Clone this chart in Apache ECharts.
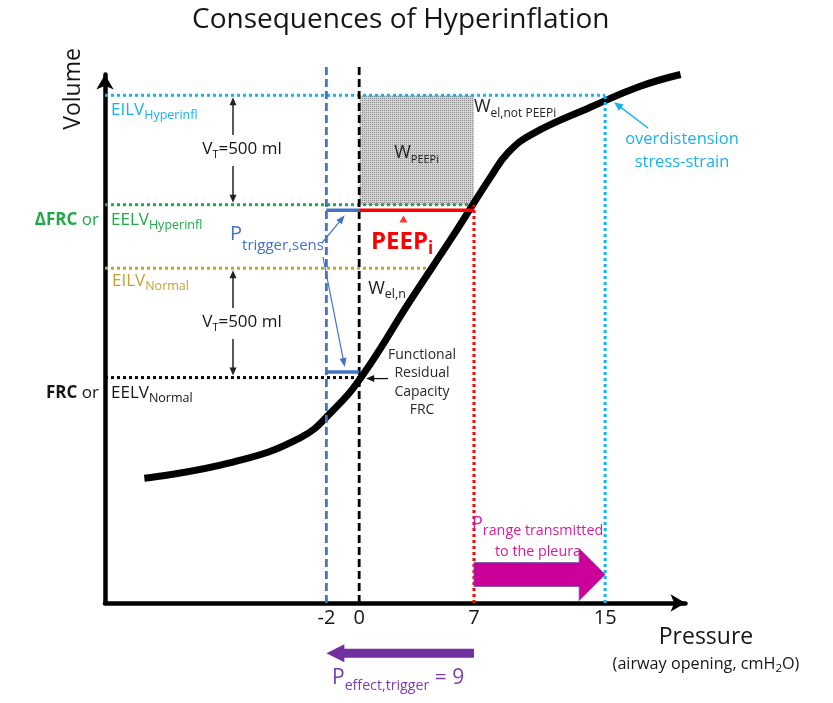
<!DOCTYPE html>
<html>
<head>
<meta charset="utf-8">
<title>Consequences of Hyperinflation</title>
<script src="https://cdn.jsdelivr.net/npm/echarts@6.0.0/dist/echarts.min.js"></script>
<style>
html,body{margin:0;padding:0;background:#ffffff;}
#chart{width:833px;height:703px;}
</style>
</head>
<body>
<div id="chart"></div>
<script>
// ---------------- data ----------------
const TITLE = 'Consequences of Hyperinflation';
// airway-opening pressure, cmH2O
const pressureTicks = [-2, 0, 7, 15];
const P_TRIGGER = -2;      // trigger sensitivity
const P_ATM = 0;
const PEEP_I = 7;          // intrinsic PEEP
const P_OVERDIST = 15;     // end-inspiratory pressure when hyperinflated
const P_EFFECT_TRIGGER = PEEP_I - P_TRIGGER; // 9
// lung volume, ml (schematic)
const FRC_VOL = 2000;          // FRC or EELV normal
const EILV_NORMAL_VOL = 2500;  // FRC + VT
const EELV_HYPER_VOL = 2790;   // ΔFRC or EELV hyperinflated
const EILV_HYPER_VOL = 3290;   // EELV hyperinflated + VT
const VT_ML = 500;
// static pressure-volume curve of the respiratory system
const curvePressure = [-13.1, -7.9, -3.6, -1.6, 0.2, 3.1, 5.7, 8.0, 9.1, 10.6, 14.1, 17.1, 19.6];
const curveVolume   = [1540, 1610, 1725, 1850, 2010, 2350, 2645, 2915, 3030, 3115, 3235, 3330, 3385];
// axis extents
const X_MIN = -15.5, X_MAX = 19.9;
const Y_MIN = 970, Y_MAX = 3385;
const GUIDE_TOP_VOL = 3420;      // top of the dashed pressure guides
const MAG_ARROW_VOL = 1100;      // level of the "P range" arrow
const PURPLE_ARROW_VOL = 740;    // level of the "P effect,trigger" arrow (below axis)
const SEG_OFFSET = 25;           // small schematic offset of the short segments
const PEEP_MARK = [2.7, 2725];   // little red marker under the PEEPi segment

// ---------------- style ----------------
const FONT = "'Open Sans', sans-serif";
const CYAN = '#19B2EC', GREEN = '#1EAA46', GOLD = '#C9A12C', BLUE = '#4472C4',
      RED = '#FF0000', MAGENTA = '#CC0099', MAGENTA_TXT = '#D81B9C', PURPLE = '#7030A0',
      PURPLE_TXT = '#7D3CB0', INK = '#161616';

function dotPattern() {
  const c = document.createElement('canvas');
  c.width = 2; c.height = 2;
  const x = c.getContext('2d');
  x.fillStyle = '#d2d2d2'; x.fillRect(0, 0, 2, 2);
  x.fillStyle = '#8e8e8e'; x.fillRect(0, 0, 1, 1);
  return c;
}

function seg(p1, v1, p2, v2, color, width, type, z) {
  return {
    type: 'line', data: [[p1, v1], [p2, v2]], symbol: 'none', showSymbol: false,
    silent: true, clip: false, z: z || 3, animation: false,
    lineStyle: {color: color, width: width, type: type, cap: 'butt'}
  };
}

function crossP(v) { // pressure where the curve reaches volume v
  for (let i = 1; i < curveVolume.length; i++) {
    if (curveVolume[i] >= v) {
      const t = (v - curveVolume[i - 1]) / (curveVolume[i] - curveVolume[i - 1]);
      return curvePressure[i - 1] + t * (curvePressure[i] - curvePressure[i - 1]);
    }
  }
  return curvePressure[curvePressure.length - 1];
}

const chart = echarts.init(document.getElementById('chart'), null, {renderer: 'canvas'});

const option = {
  animation: false,
  backgroundColor: '#ffffff',
  title: {
    text: TITLE, left: 187, top: 1,
    textStyle: {fontFamily: FONT, fontSize: 28, fontWeight: 'normal', color: INK}
  },
  grid: {left: 105, right: 147.5, top: 74.5, bottom: 100, containLabel: false, outerBoundsMode: 'none'},
  xAxis: {
    type: 'value', min: X_MIN, max: X_MAX,
    splitLine: {show: false}, axisTick: {show: false},
    axisLine: {onZero: false, lineStyle: {color: '#000', width: 4.5}, symbol: ['none', 'arrow'], symbolSize: [13, 15]},
    axisLabel: {customValues: pressureTicks, fontFamily: FONT, fontSize: 20, color: INK, margin: 5,
      formatter: function (v) { return String(v); }}
  },
  yAxis: {
    type: 'value', min: Y_MIN, max: Y_MAX,
    splitLine: {show: false}, axisTick: {show: false}, axisLabel: {show: false},
    axisLine: {onZero: false, lineStyle: {color: '#000', width: 4.5}, symbol: ['none', 'arrow'], symbolSize: [13, 15]}
  },
  series: [
    // W_PEEPi shaded area
    {type: 'line', data: [], silent: true, z: 1,
     markArea: {silent: true, itemStyle: {color: {image: dotPattern(), repeat: 'repeat'}},
       data: [[{coord: [P_ATM, EELV_HYPER_VOL]}, {coord: [PEEP_I, EILV_HYPER_VOL]}]]}},
    // horizontal dotted volume levels
    seg(X_MIN, EILV_HYPER_VOL, P_OVERDIST, EILV_HYPER_VOL, CYAN, 3, 'dotted'),
    seg(X_MIN, EELV_HYPER_VOL, PEEP_I, EELV_HYPER_VOL, GREEN, 3, 'dotted'),
    seg(X_MIN, EILV_NORMAL_VOL, crossP(EILV_NORMAL_VOL), EILV_NORMAL_VOL, GOLD, 3, 'dotted'),
    seg(X_MIN, FRC_VOL, P_ATM, FRC_VOL, '#000', 3, 'dotted'),
    // vertical dotted pressure guides
    seg(PEEP_I, Y_MIN, PEEP_I, EELV_HYPER_VOL, RED, 3, 'dotted', 6),
    seg(P_OVERDIST, Y_MIN, P_OVERDIST, EILV_HYPER_VOL, CYAN, 3, 'dotted', 6),
    // P-V curve
    {type: 'line', name: 'P-V curve', data: curvePressure.map(function (p, i) { return [p, curveVolume[i]]; }),
     smooth: 0.45, symbol: 'none', showSymbol: false, clip: false, silent: true, z: 4,
     lineStyle: {color: '#000', width: 7, cap: 'butt', join: 'round'}},
    // dashed guides at trigger and zero pressure
    seg(P_TRIGGER, Y_MIN, P_TRIGGER, GUIDE_TOP_VOL, BLUE, 2.8, [8, 4], 5),
    seg(P_ATM, Y_MIN, P_ATM, GUIDE_TOP_VOL, '#000', 2.8, [8, 4], 5),
    // PEEPi segment and trigger-sensitivity segments
    seg(P_ATM, EELV_HYPER_VOL - SEG_OFFSET, PEEP_I, EELV_HYPER_VOL - SEG_OFFSET, RED, 3.5, 'solid', 6),
    seg(P_TRIGGER, EELV_HYPER_VOL - SEG_OFFSET, P_ATM, EELV_HYPER_VOL - SEG_OFFSET, BLUE, 3.5, 'solid', 6),
    seg(P_TRIGGER, FRC_VOL + SEG_OFFSET, P_ATM, FRC_VOL + SEG_OFFSET, BLUE, 3.5, 'solid', 6),
    {type: 'scatter', data: [PEEP_MARK], symbol: 'triangle', symbolSize: [8, 7], silent: true, z: 6,
     itemStyle: {color: RED}}
  ]
};
chart.setOption(option);

// ---------------- annotations ----------------
const toPx = function (p, v) { return chart.convertToPixel({gridIndex: 0}, [p, v]); };
const g = [];

function arrow(x1, y1, x2, y2, color, w, hl, hw) {
  const dx = x2 - x1, dy = y2 - y1, L = Math.hypot(dx, dy), ux = dx / L, uy = dy / L;
  const bx = x2 - ux * hl, by = y2 - uy * hl;
  g.push({type: 'line', z: 90, silent: true, shape: {x1: x1, y1: y1, x2: bx + ux, y2: by + uy},
          style: {stroke: color, lineWidth: w}});
  g.push({type: 'polygon', z: 90, silent: true,
          shape: {points: [[x2, y2], [bx - uy * hw / 2, by + ux * hw / 2], [bx + uy * hw / 2, by - ux * hw / 2]]},
          style: {fill: color}});
}
function rich(F, f, drop, fill, weight) {
  const L = Math.round(2 * (drop + 0.39 * F + 0.11 * f));
  const w = weight || 'normal';
  return {
    b: {fontFamily: FONT, fontSize: F, lineHeight: L, fill: fill, fontWeight: w},
    s: {fontFamily: FONT, fontSize: f, lineHeight: f, fill: fill, fontWeight: w, verticalAlign: 'bottom'},
    k: {fontFamily: FONT, fontSize: F, lineHeight: L, fill: fill, fontWeight: 'bold'}
  };
}
function txt(x, y, text, richStyle, align) {
  g.push({type: 'text', x: x, y: y, z: 100, silent: true,
          style: {text: text, rich: richStyle, align: align || 'left', verticalAlign: 'middle'}});
}
function plain(x, y, text, size, fill, align, extra) {
  const st = {text: text, fontFamily: FONT, fontSize: size, fill: fill, align: align || 'left', verticalAlign: 'middle'};
  if (extra) Object.assign(st, extra);
  g.push({type: 'text', x: x, y: y, z: 100, silent: true, style: st});
}

const yEILVh = toPx(0, EILV_HYPER_VOL)[1];
const yEELVh = toPx(0, EELV_HYPER_VOL)[1];
const yEILVn = toPx(0, EILV_NORMAL_VOL)[1];
const yFRC = toPx(0, FRC_VOL)[1];
const x0 = toPx(P_ATM, 0)[0], x7 = toPx(PEEP_I, 0)[0], x15 = toPx(P_OVERDIST, 0)[0], xm2 = toPx(P_TRIGGER, 0)[0];

// axis names
g.push({type: 'text', x: 73, y: 89, rotation: Math.PI / 2, z: 100, silent: true,
        style: {text: 'Volume', fontFamily: FONT, fontSize: 23, fill: INK, align: 'center', verticalAlign: 'middle'}});
plain(706, 637, 'Pressure', 23, INK, 'center');
txt(706, 664, '{b|(airway opening, cmH}{s|2}{b|O)}', rich(16.2, 11.5, 3, INK), 'center');

// volume level names
txt(111, yEILVh + 14.5, '{b|EILV}{s|Hyperinfl}', rich(17, 12.5, 4, CYAN));
txt(111, yEELVh + 15.5, '{b|EELV}{s|Hyperinfl}', rich(17, 12.5, 4, GREEN));
txt(99, yEELVh + 15.5, '{k|ΔFRC}{b| or}', rich(17, 12.5, 4, GREEN), 'right');
txt(112, yEILVn + 12.5, '{b|EILV}{s|Normal}', rich(17, 12.5, 4, GOLD));
txt(111, yFRC + 15.5, '{b|EELV}{s|Normal}', rich(17, 12.5, 4, INK));
txt(99, yFRC + 15.5, '{k|FRC}{b| or}', rich(17, 12.5, 4, INK), 'right');

// tidal volume brackets
const xVT = 233;
[[yEILVh, yEELVh], [yEILVn, yFRC]].forEach(function (pair) {
  const mid = (pair[0] + pair[1]) / 2;
  txt(242, mid - 1, '{b|V}{s|T}{b|=' + VT_ML + ' ml}', rich(17, 11, 3, INK), 'center');
  arrow(xVT, mid - 15, xVT, pair[0] + 2, '#222', 1.5, 8, 7);
  arrow(xVT, mid + 16, xVT, pair[1] - 2, '#222', 1.5, 8, 7);
});

// work labels
txt((x0 + x7) / 2, (yEILVh + yEELVh) / 2 + 3, '{b|W}{s|PEEPi}', rich(18, 11, 4, '#222'), 'center');
txt(x7, yEILVh + 11.5, '{b|W}{s|el,not PEEPi}', rich(18, 12, 4, '#222'));
txt(x0 + 9, 288.5, '{b|W}{s|el,n}', rich(18, 12.5, 4, '#222'));

// PEEPi label
txt(371, 242, '{b|PEEP}{s|i}', rich(24, 17, 5, RED, 'bold'));

// trigger sensitivity label and leaders
txt(230, 234, '{b|P}{s|trigger,sens}', rich(20, 15, 10, BLUE));
const pSeg1 = toPx((P_TRIGGER + P_ATM) / 2, EELV_HYPER_VOL - SEG_OFFSET);
const pSeg2 = toPx((P_TRIGGER + P_ATM) / 2, FRC_VOL + SEG_OFFSET);
arrow(322, 243, pSeg1[0] + 2, pSeg1[1] + 5, BLUE, 1.2, 9, 7);
arrow(323, 257, pSeg2[0] + 2, pSeg2[1] - 5, BLUE, 1.2, 9, 7);

// FRC note
plain(422, 382.5, 'Functional\nResidual\nCapacity\nFRC', 14, '#2a2a2a', 'center', {lineHeight: 18.5});
arrow(388, yFRC + 1, x0 + 7, yFRC + 1, '#111', 1.3, 8, 7);

// overdistension note
plain(682, 150.5, 'overdistension\nstress-strain', 16.5, CYAN, 'center', {lineHeight: 23});
arrow(648, 128, x15 + 9, yEILVh + 7, CYAN, 1.5, 9, 8);

// P range transmitted to the pleura
const mp1 = toPx(PEEP_I, MAG_ARROW_VOL), mp2 = toPx(P_OVERDIST, MAG_ARROW_VOL);
const my = mp1[1], mxa = mp1[0], mxb = mp2[0];
g.push({type: 'polygon', z: 80, silent: true,
  shape: {points: [[mxa, my - 12], [mxb - 26, my - 12], [mxb - 26, my - 26], [mxb, my], [mxb - 26, my + 26], [mxb - 26, my + 12], [mxa, my + 12]]},
  style: {fill: MAGENTA, stroke: '#6A5BA6', lineWidth: 0.8}});
txt(472, 524, '{b|P}{s|range transmitted}', rich(18, 14.3, 5, MAGENTA_TXT));
plain(495, 552, 'to the pleura', 14.3, MAGENTA_TXT, 'left');

// P effect,trigger
const pp1 = toPx(PEEP_I, PURPLE_ARROW_VOL), pp2 = toPx(P_TRIGGER, PURPLE_ARROW_VOL);
const py = pp1[1];
g.push({type: 'polygon', z: 80, silent: true,
  shape: {points: [[pp1[0], py - 4.5], [pp2[0] + 18, py - 4.5], [pp2[0] + 18, py - 9], [pp2[0], py], [pp2[0] + 18, py + 9], [pp2[0] + 18, py + 4.5], [pp1[0], py + 4.5]]},
  style: {fill: PURPLE}});
txt(332, 678, '{b|P}{s|effect,trigger}{b| = ' + P_EFFECT_TRIGGER + '}', rich(21, 14.2, 4.5, PURPLE_TXT));

chart.setOption({graphic: {elements: g}});
</script>
</body>
</html>
